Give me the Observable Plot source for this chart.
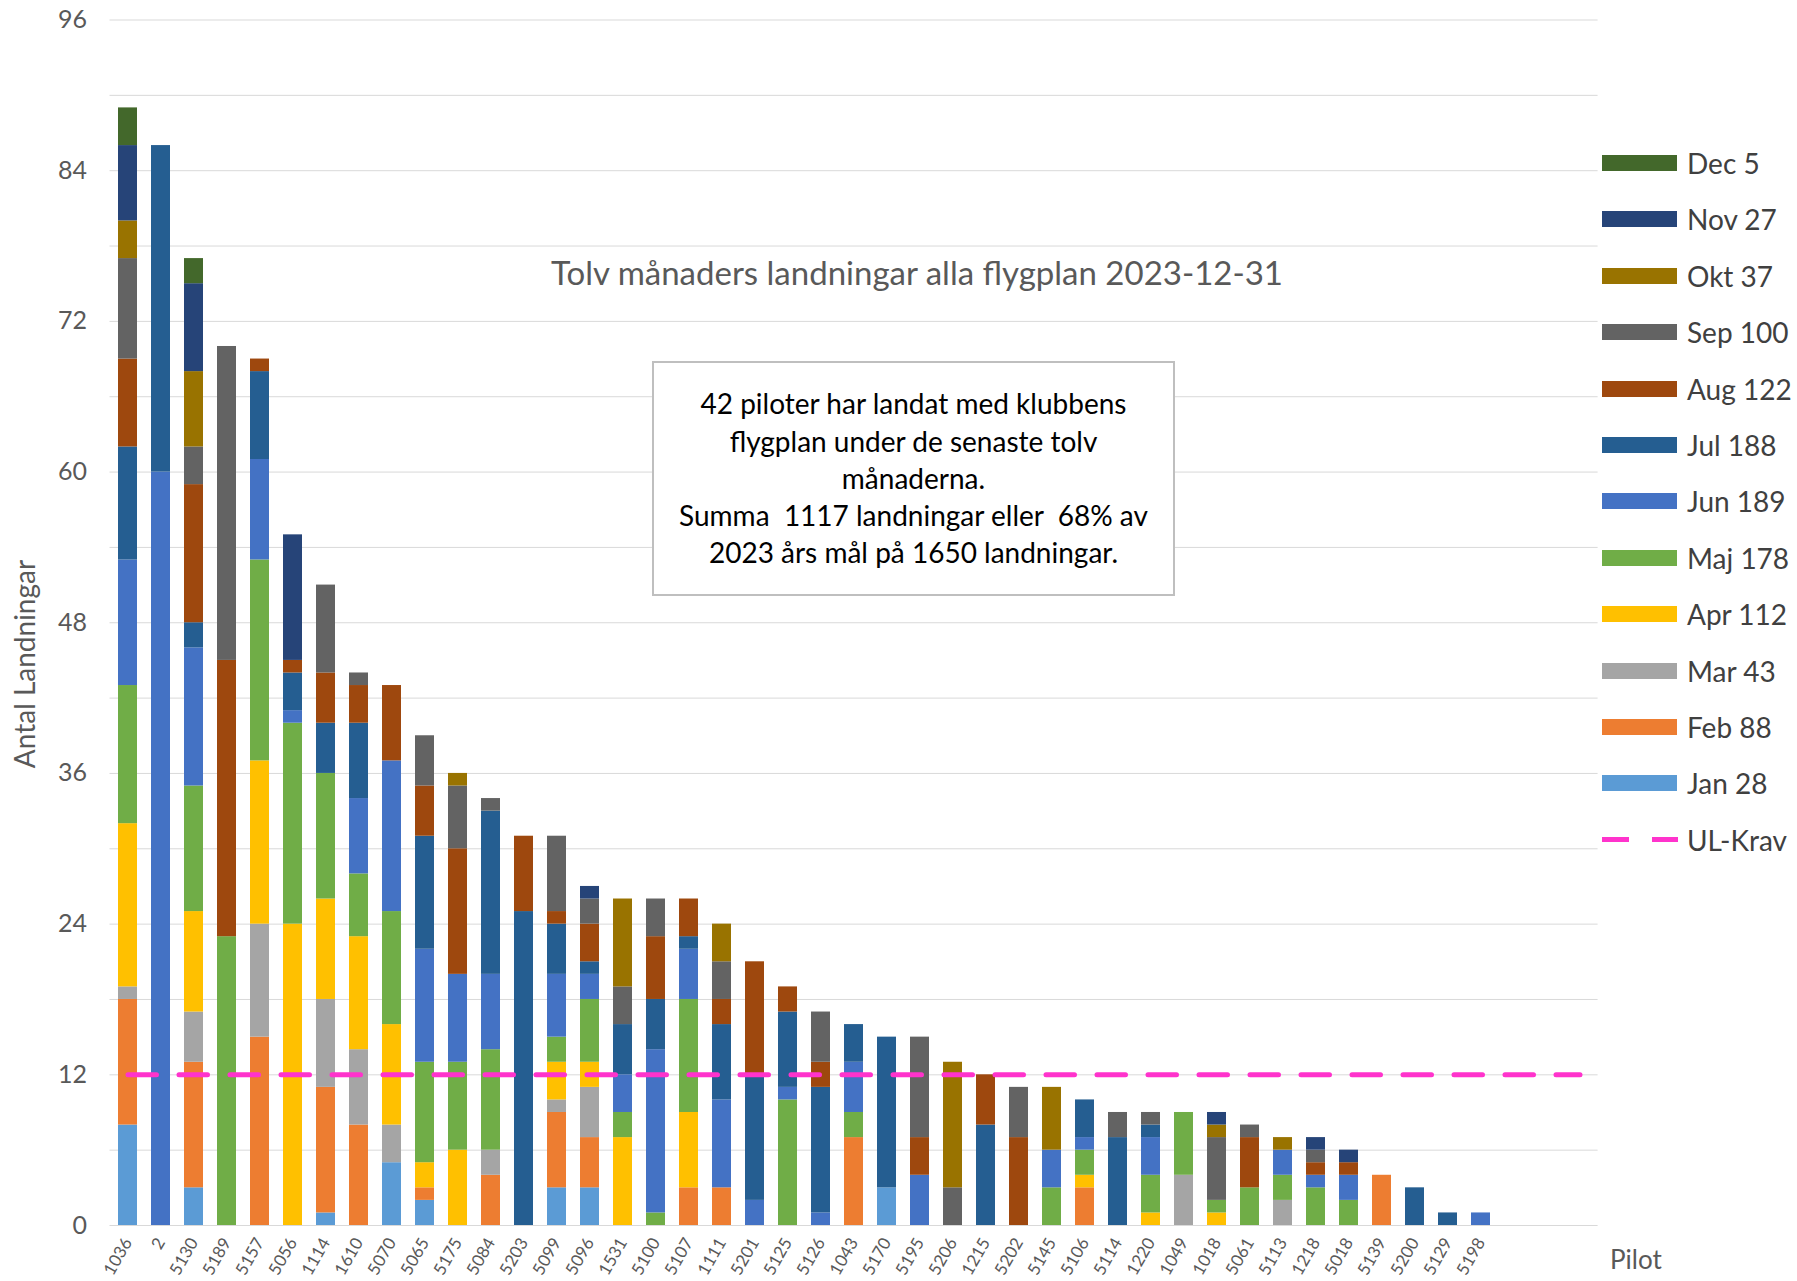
<!DOCTYPE html>
<html><head><meta charset="utf-8">
<script src="https://cdn.jsdelivr.net/npm/d3@7"></script>
<script src="https://cdn.jsdelivr.net/npm/@observablehq/plot@0.6"></script>
<style>
html,body{margin:0;padding:0;background:#fff;}
#wrap{position:relative;width:1797px;height:1281px;font-family:Lato,sans-serif;overflow:hidden}
#wrap svg{position:absolute;left:0;top:0}
.ov{position:absolute;white-space:nowrap}
</style></head><body><div id="wrap"></div>
<script>
const pilots = ["1036","2","5130","5189","5157","5056","1114","1610","5070","5065","5175","5084","5203","5099","5096","1531","5100","5107","1111","5201","5125","5126","1043","5170","5195","5206","1215","5202","5145","5106","5114","1220","1049","1018","5061","5113","1218","5018","5139","5200","5129","5198"];
const blankSlots = ["_a","_b","_c"];
const months = ["Jan","Feb","Mar","Apr","Maj","Jun","Jul","Aug","Sep","Okt","Nov","Dec"];
const colors = ["#5B9BD5","#ED7D31","#A5A5A5","#FFC000","#70AD47","#4472C4","#255E91","#9E480E","#636363","#997300","#264478","#43682B"];
const jan = [8,0,3,0,0,0, 1,0,5,2,0,0, 0,3,3,0,0,0, 0,0,0,0,0,3, 0,0,0,0,0,0, 0,0,0,0,0,0, 0,0,0,0,0,0];
const feb = [10,0,10,0,15,0, 10,8,0,1,0,4, 0,6,4,0,0,3, 3,0,0,0,7,0, 0,0,0,0,0,3, 0,0,0,0,0,0, 0,0,4,0,0,0];
const mar = [1,0,4,0,9,0, 7,6,3,0,0,2, 0,1,4,0,0,0, 0,0,0,0,0,0, 0,0,0,0,0,0, 0,0,4,0,0,2, 0,0,0,0,0,0];
const apr = [13,0,8,0,13,24, 8,9,8,2,6,0, 0,3,2,7,0,6, 0,0,0,0,0,0, 0,0,0,0,0,1, 0,1,0,1,0,0, 0,0,0,0,0,0];
const maj = [11,0,10,23,16,16, 10,5,9,8,7,8, 0,2,5,2,1,9, 0,0,10,0,2,0, 0,0,0,0,3,2, 0,3,5,1,3,2, 3,2,0,0,0,0];
const jun = [10,60,11,0,8,1, 0,6,12,9,7,6, 0,5,2,3,13,4, 7,2,1,1,4,0, 4,0,0,0,3,1, 0,3,0,0,0,2, 1,2,0,0,0,1];
const jul = [9,26,2,0,7,3, 4,6,0,9,0,13, 25,4,1,4,4,1, 6,10,6,10,3,12, 0,0,8,0,0,3, 7,1,0,0,0,0, 0,0,0,3,1,0];
const aug = [7,0,11,22,1,1, 4,3,6,4,10,0, 6,1,3,0,5,3, 2,9,2,2,0,0, 3,0,4,7,0,0, 0,0,0,0,4,0, 1,1,0,0,0,0];
const sep = [8,0,3,25,0,0, 7,1,0,4,5,1, 0,6,2,3,3,0, 3,0,0,4,0,0, 8,3,0,4,0,0, 2,1,0,5,1,0, 1,0,0,0,0,0];
const okt = [3,0,6,0,0,0, 0,0,0,0,1,0, 0,0,0,7,0,0, 3,0,0,0,0,0, 0,10,0,0,5,0, 0,0,0,1,0,1, 0,0,0,0,0,0];
const nov = [6,0,7,0,0,10, 0,0,0,0,0,0, 0,0,1,0,0,0, 0,0,0,0,0,0, 0,0,0,0,0,0, 0,0,0,1,0,0, 1,1,0,0,0,0];
const dec = [3,0,2,0,0,0, 0,0,0,0,0,0, 0,0,0,0,0,0, 0,0,0,0,0,0, 0,0,0,0,0,0, 0,0,0,0,0,0, 0,0,0,0,0,0];
const series = [jan,feb,mar,apr,maj,jun,jul,aug,sep,okt,nov,dec];
const ulKrav = 12;
const yTicks = [0,12,24,36,48,60,72,84,96];
const yGrid = [0,6,12,18,24,30,36,42,48,54,60,66,72,78,84,90,96];
const titleText = "Tolv månaders landningar alla flygplan 2023-12-31";
const boxLines = ["42 piloter har landat med klubbens","flygplan under de senaste tolv","månaderna.","Summa\u00a0 1117 landningar eller\u00a0 68% av","2023 års mål på 1650 landningar."];

const W=1797, H=1281, mL=109.5, mR=199.4, mT=19.5, mB=56;
const data = [];
months.forEach((m,mi)=>series[mi].forEach((v,i)=>{ if(v>0) data.push({pilot:pilots[i], month:m, value:v}); }));
const domainX = [...pilots, ...blankSlots];

const chart = Plot.plot({
  width:W, height:H, marginLeft:mL, marginRight:mR, marginTop:mT, marginBottom:mB,
  style:{fontFamily:"Lato", color:"#595959", background:"transparent", overflow:"visible"},
  x:{type:"band", domain:domainX, paddingInner:0.43, paddingOuter:0.215, label:null},
  y:{domain:[0,96], label:null},
  color:{domain:months, range:colors},
  marks:[
    Plot.gridY(yGrid, {stroke:"#d9d9d9", strokeOpacity:1, strokeWidth:1}),
    Plot.axisY(yTicks, {tickSize:0, tickPadding:23, fontSize:25, label:null}),
    Plot.axisX({tickSize:0, tickPadding:14, tickRotate:-60, fontSize:17, label:null, tickFormat:d=>blankSlots.includes(d)?"":d}),
    Plot.barY(data, {x:"pilot", y:"value", fill:"month"}),
    Plot.lineY(domainX, {x:d=>d, y:()=>ulKrav, stroke:"#ff33cc", strokeWidth:5, strokeDasharray:"28.5,22.5"})
  ]
});
const wrap = document.getElementById("wrap");
wrap.appendChild(chart);

function ov(html, css){ const d=document.createElement("div"); d.className="ov"; d.innerHTML=html; Object.assign(d.style, css); wrap.appendChild(d); return d; }

// title
ov(titleText, {left:"917px", top:"251px", transform:"translateX(-50%)", fontSize:"33px", lineHeight:"42px", color:"#595959"});
// text box
ov(boxLines.join("<br>"), {left:"652px", top:"361px", width:"519px", height:"231px", border:"2px solid #bfbfbf", background:"#fff",
   display:"flex", alignItems:"center", justifyContent:"center", textAlign:"center", fontSize:"28px", lineHeight:"37.3px", color:"#000"});
// y title
ov("Antal Landningar", {left:"24px", top:"664px", transform:"translate(-50%,-50%) rotate(-90deg)", fontSize:"28px", color:"#595959"});
// x title
ov("Pilot", {left:"1610px", top:"1243px", fontSize:"26px", lineHeight:"32px", color:"#595959"});
// legend
const totals = series.map(s=>d3.sum(s));
const legendY0 = 163, legendStep = 56.4;
const order = d3.range(months.length).reverse();
order.forEach((mi,k)=>{
  const cy = legendY0 + k*legendStep;
  ov("", {left:"1602px", top:(cy-8)+"px", width:"75px", height:"16px", background:colors[mi]});
  ov(months[mi]+" "+totals[mi], {left:"1687px", top:(cy-17)+"px", fontSize:"28px", lineHeight:"34px", color:"#404040"});
});
{
  const cy = legendY0 + 12*legendStep;
  ov("", {left:"1602px", top:(cy-2.5)+"px", width:"27px", height:"5px", background:"#ff33cc"});
  ov("", {left:"1652px", top:(cy-2.5)+"px", width:"26px", height:"5px", background:"#ff33cc"});
  ov("UL-Krav", {left:"1687px", top:(cy-17)+"px", fontSize:"28px", lineHeight:"34px", color:"#404040"});
}
</script></body></html>
